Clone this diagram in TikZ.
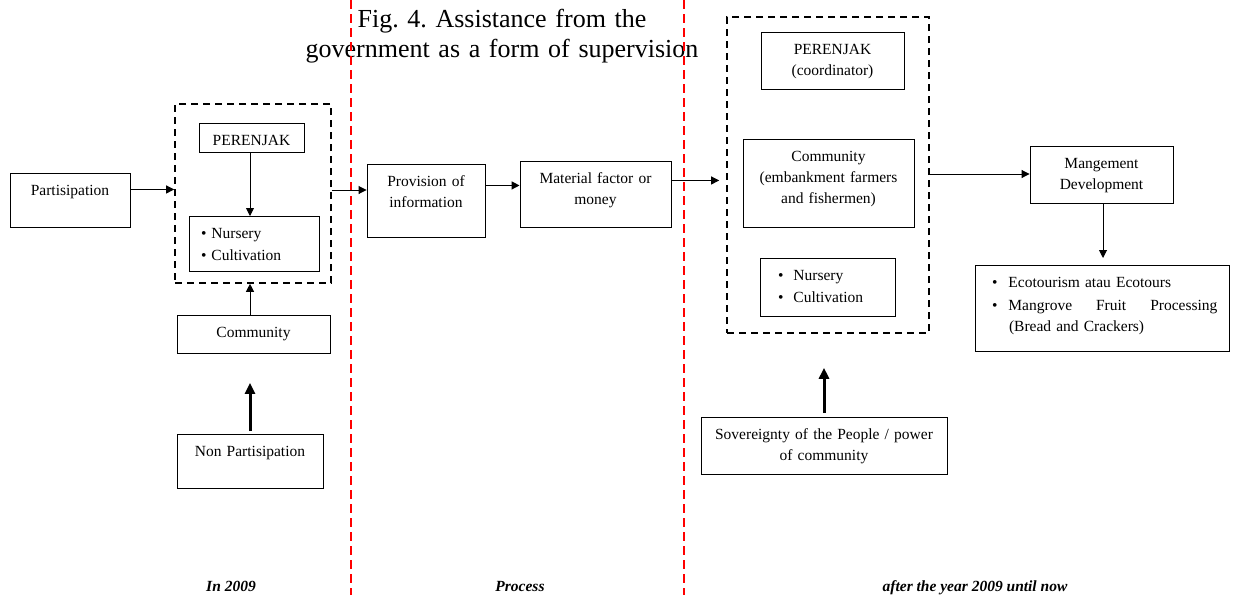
\documentclass[tikz,border=0pt]{standalone}
\usepackage{fontspec}
\setmainfont{Liberation Serif}
\usetikzlibrary{arrows.meta}
\frenchspacing

\begin{document}
\begin{tikzpicture}[x=1pt,y=-1pt,
  box/.style={rectangle,draw,line width=0.9pt,anchor=north,inner xsep=0pt,inner ysep=0pt,
    align=center,text height=22pt,font=\fontsize{15.5}{21}\selectfont},
  grp/.style={rectangle,draw,line width=1.6pt,dash pattern=on 7pt off 5pt},
  sep/.style={red,line width=1.6pt,dash pattern=on 9pt off 5pt},
  lab/.style={anchor=base,inner sep=0pt,font=\fontsize{15.5}{21}\selectfont\bfseries\itshape},
  >={Triangle[length=8pt,width=8pt]}]
\useasboundingbox (0,0) rectangle (1236,595);
\node at (502,27) [anchor=base,align=center,text width=420pt,inner sep=0pt,
  font=\fontsize{26}{30}\selectfont] (title) {Fig. 4. Assistance from the\\government as a form of supervision};
% In 2009
\node at (70,173) [box,text width=120pt,text depth=32pt] (part) {Partisipation};
\node at (253,193.5) [grp,minimum width=156pt,minimum height=179pt] (grp1) {};
\node at (251.5,123) [box,text width=105pt,text depth=7pt] (per1) {PERENJAK};
\node at (254,216) [box,text width=130pt,text depth=33pt,align=left] (nur1)
  {\hspace*{12pt}\textbullet\hspace{5pt}Nursery\\[1pt]\hspace*{12pt}\textbullet\hspace{5pt}Cultivation};
\node at (253.5,315) [box,text width=153pt,text depth=16pt] (com1) {Community};
\node at (250,434) [box,text width=146pt,text depth=32pt] (non) {Non Partisipation};
% Process
\node at (426,164) [box,text width=118pt,text depth=51pt] (prov) {Provision of\\information};
\node at (595.5,161) [box,text width=151pt,text depth=44pt] (mat) {Material factor or\\money};
% after 2009
\node at (828,175) [grp,minimum width=202pt,minimum height=316pt] (grp2) {};
\node at (832.5,32) [box,text width=143pt,text depth=35pt] (per2) {PERENJAK\\(coordinator)};
\node at (828.5,139) [box,text width=171pt,text depth=66pt] (com2) {Community\\(embankment farmers\\and fishermen)};
\node at (827.5,258) [box,text width=135pt,text depth=36pt,align=left] (nur2)
  {\hspace*{18pt}\textbullet\hspace{10pt}Nursery\\[1pt]\hspace*{18pt}\textbullet\hspace{10pt}Cultivation};
\node at (824,417) [box,text width=246pt,text depth=35pt] (sov) {Sovereignty of the People / power\\of community};
\node at (1101.5,146) [box,text width=143pt,text depth=35pt] (mgmt) {Mangement\\Development};
\node at (1102,265) [box,text width=254pt,text depth=64pt,align=left] (eco)
  {\hspace*{17pt}\textbullet\hspace{11pt}Ecotourism atau Ecotours\\[2pt]
   \hspace*{17pt}\textbullet\hspace{11pt}\hbox to 209pt{Mangrove\hfill Fruit\hfill Processing}\\
   \hspace*{34pt}(Bread and Crackers)};
\node at (231,591) [lab] (l1) {In 2009};
\node at (520,591) [lab] (l2) {Process};
\node at (975,591) [lab] (l3) {after the year 2009 until now};
\draw[sep] (351,0) -- (351,595);
\draw[sep] (684,0) -- (684,595);
\draw[->,line width=0.9pt] ([yshift=11pt]part.east) -- ([yshift=11pt]part.east -| grp1.west);
\draw[->,line width=0.9pt] ([xshift=-1.5pt]per1.south) -- ([xshift=-1.5pt]per1.south |- nur1.north);
\draw[->,line width=0.9pt] ([xshift=-3.5pt]com1.north) -- ([xshift=-3.5pt]com1.north |- grp1.south);
\draw[->,line width=3pt,>={Triangle[length=11pt,width=10pt]},shorten <=3pt,shorten >=29pt] (non.north) -- (non.north |- com1.south);
\draw[->,line width=0.9pt] ([yshift=3.5pt]grp1.east) -- ([yshift=3.5pt]grp1.east -| prov.west);
\draw[->,line width=1.4pt] ([yshift=15.5pt]prov.east) -- ([yshift=15.5pt]prov.east -| mat.west);
\draw[->,line width=0.9pt,shorten >=7pt] ([yshift=14pt]mat.east) -- ([yshift=14pt]mat.east -| grp2.west);
\draw[->,line width=0.9pt] ([yshift=1pt]grp2.east) -- ([yshift=1pt]grp2.east -| mgmt.west);
\draw[->,line width=0.9pt,shorten >=7pt] ([xshift=1.5pt]mgmt.south) -- ([xshift=1.5pt]mgmt.south |- eco.north);
\draw[->,line width=3pt,>={Triangle[length=11pt,width=10pt]},shorten <=4pt,shorten >=34pt] (sov.north) -- (sov.north |- grp2.south);
\end{tikzpicture}
\end{document}
